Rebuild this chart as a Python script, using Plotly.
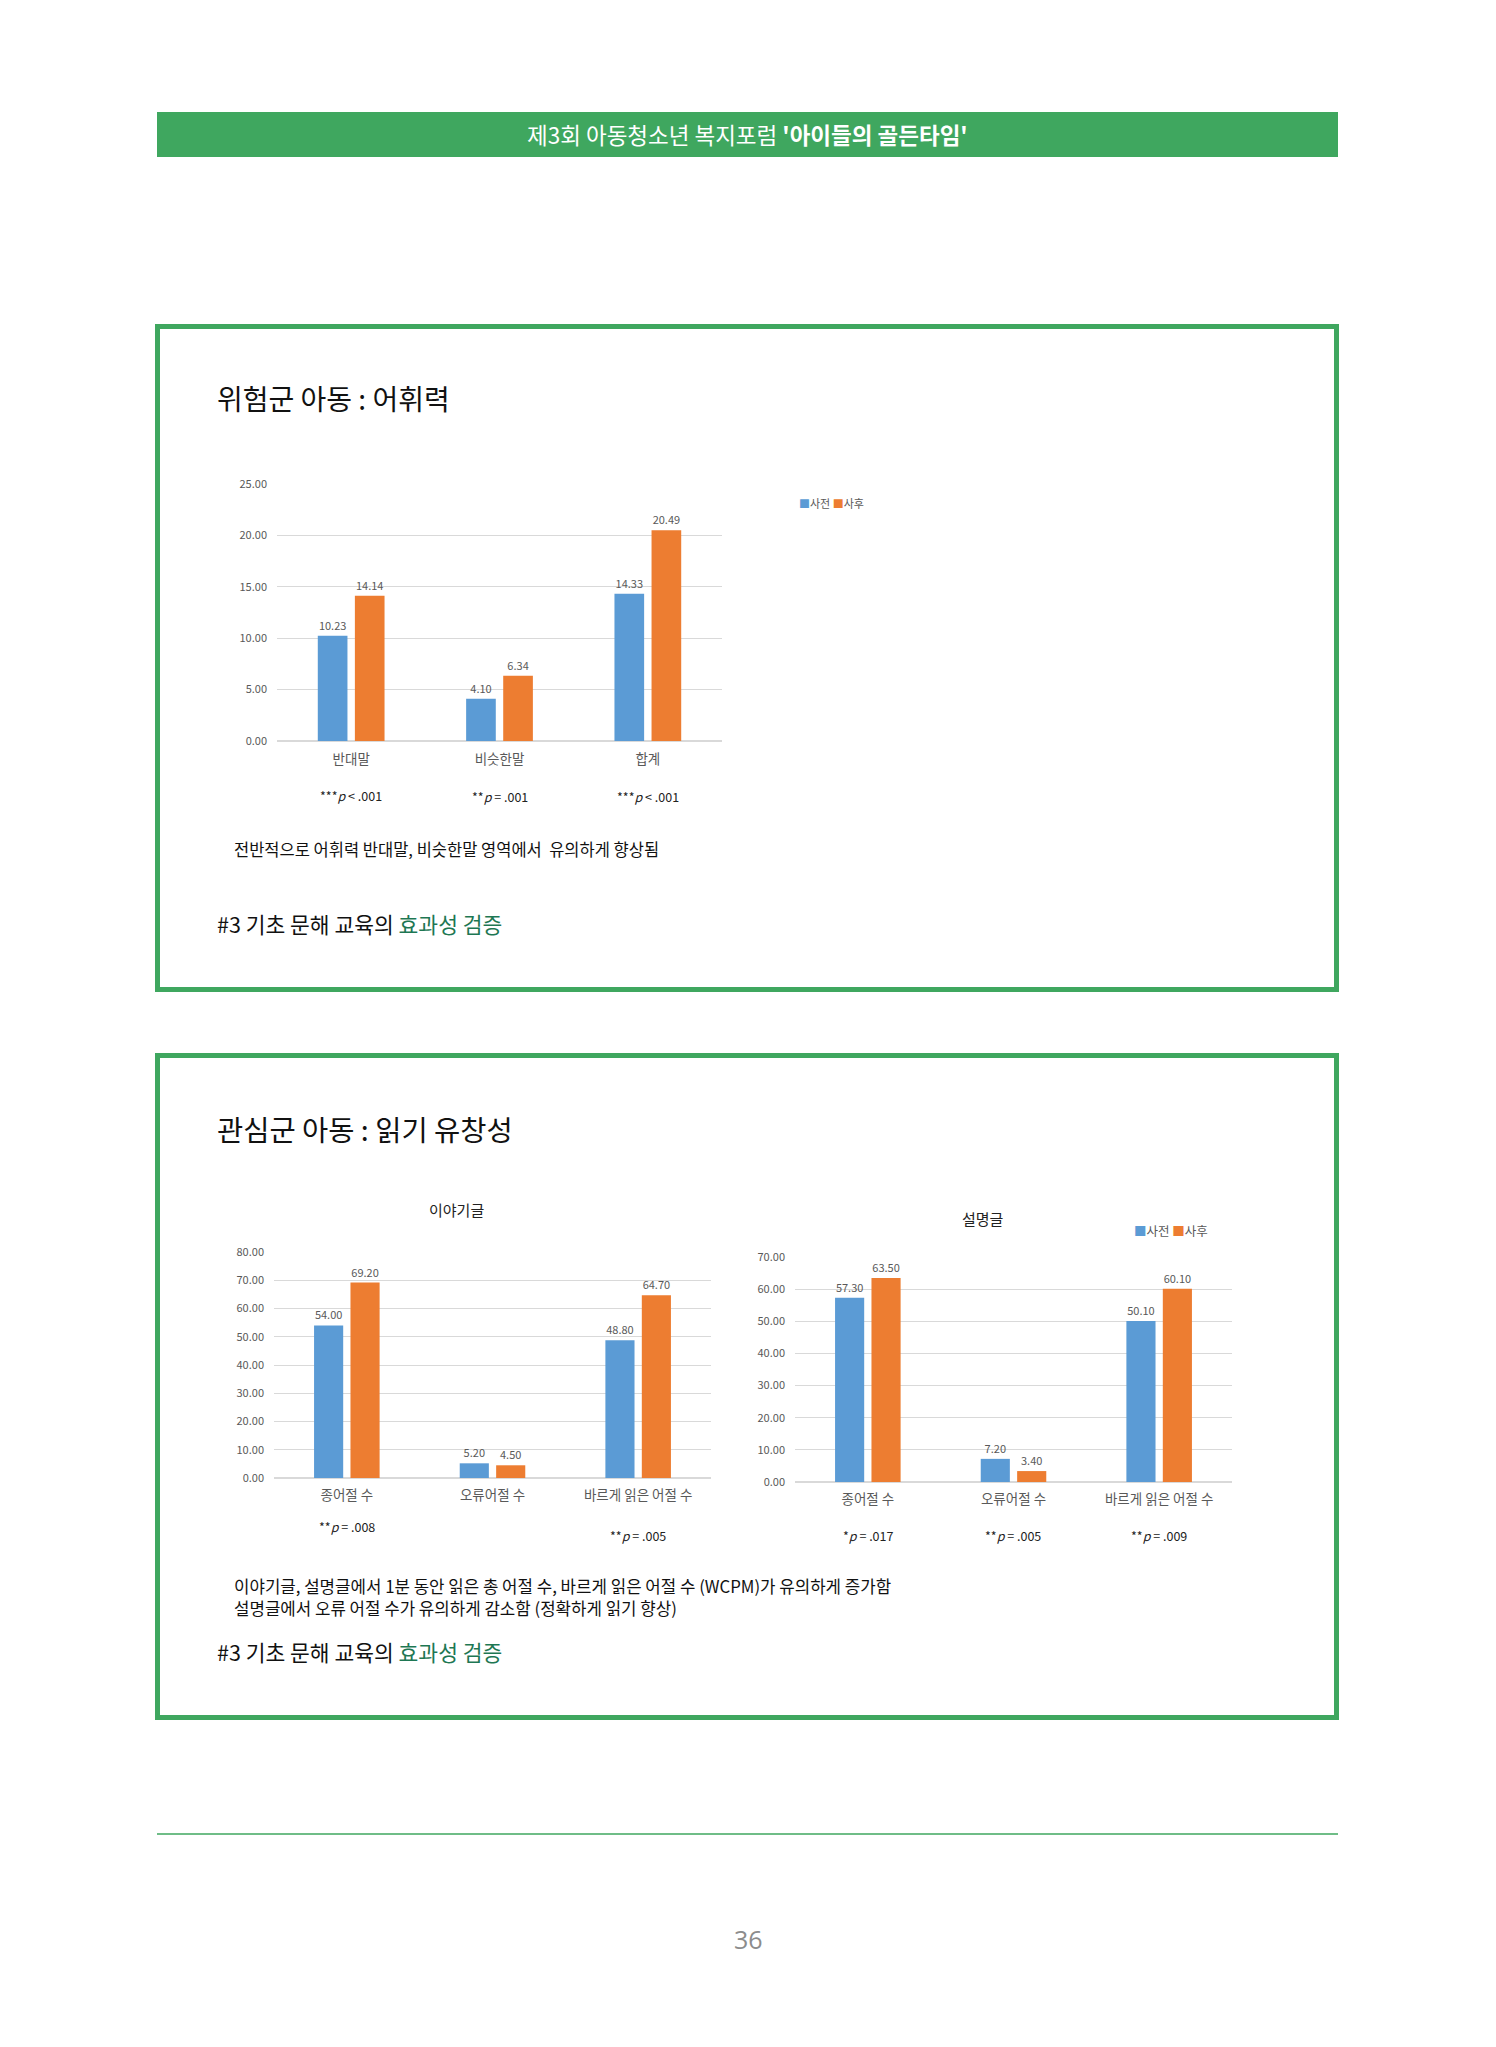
import plotly.graph_objects as go

W, H = 1496, 2047
GREEN = "#3FA75F"
TEAL = "#1E7753"
BLUE = "#5B9BD5"
ORANGE = "#ED7D31"
GRID = "#D9D9D9"
TXT = "#595959"
FONT = "Noto Sans CJK KR"

# ---- data ----
series_names = ["사전", "사후"]

vocab_categories = ["반대말", "비슷한말", "합계"]
vocab_pre = [10.23, 4.10, 14.33]
vocab_post = [14.14, 6.34, 20.49]
vocab_p = ["***<i>p</i> &lt; .001", "**<i>p</i> = .001", "***<i>p</i> &lt; .001"]

fluency_categories = ["종어절 수", "오류어절 수", "바르게 읽은 어절 수"]
story_pre = [54.00, 5.20, 48.80]
story_post = [69.20, 4.50, 64.70]
story_p = ["**<i>p</i> = .008", None, "**<i>p</i> = .005"]

expo_pre = [57.30, 7.20, 50.10]
expo_post = [63.50, 3.40, 60.10]
expo_p = ["*<i>p</i> = .017", "**<i>p</i> = .005", "**<i>p</i> = .009"]

OFF, HR = 0.0, 2047.0


def px(x):
    return x / W


def py(y):
    return 1 - (y - OFF) / HR


fig = go.Figure()


def add_pair(cats, pre, post, xa, ya):
    for name, vals, col in [(series_names[0], pre, BLUE), (series_names[1], post, ORANGE)]:
        fig.add_trace(go.Bar(
            x=cats, y=vals, name=name, marker=dict(color=col, line=dict(width=0)),
            texttemplate="%{y:.2f}", textposition="outside",
            textfont=dict(size=11, color=TXT, family=FONT),
            cliponaxis=False, xaxis=xa, yaxis=ya, showlegend=False,
        ))


add_pair(vocab_categories, vocab_pre, vocab_post, "x", "y")
add_pair(fluency_categories, story_pre, story_post, "x2", "y2")
add_pair(fluency_categories, expo_pre, expo_post, "x3", "y3")


def yax(rng, dtick, top, bot, anchor, size):
    return dict(range=rng, dtick=dtick, tickformat=".2f", showgrid=True, gridcolor=GRID,
                gridwidth=1, zeroline=True, zerolinecolor=GRID, zerolinewidth=1.5,
                showline=False, ticks="", tickfont=dict(size=size, color=TXT, family=FONT),
                ticklabelstandoff=9, domain=[py(bot), py(top)], anchor=anchor, fixedrange=True,
                automargin=False)


def xax(left, right, anchor, size, standoff):
    return dict(domain=[px(left), px(right)], anchor=anchor, showline=False, ticks="",
                tickfont=dict(size=size, color=TXT, family=FONT), ticklabelstandoff=standoff,
                fixedrange=True, automargin=False)


fig.update_layout(
    width=W, height=H, margin=dict(l=0, r=0, t=0, b=0),
    paper_bgcolor="white", plot_bgcolor="white",
    barmode="group", bargap=0.5, bargroupgap=0.2,
    font=dict(family=FONT, color=TXT),
    xaxis=xax(277, 722, "y", 13.5, 8),
    yaxis=yax([0, 25], 5, 484, 741, "x", 11),
    xaxis2=xax(274, 711, "y2", 13.5, 7),
    yaxis2=yax([0, 80], 10, 1252, 1478, "x2", 11),
    xaxis3=xax(795, 1232, "y3", 13.5, 7),
    yaxis3=yax([0, 70], 10, 1257, 1482, "x3", 11),
    showlegend=False,
)

shapes = [
    # header bar
    dict(type="rect", xref="paper", yref="paper", x0=px(157), x1=px(1338), y0=py(157), y1=py(112),
         fillcolor=GREEN, line=dict(width=0), layer="below"),
    # boxes
    dict(type="rect", xref="paper", yref="paper", x0=px(157.5), x1=px(1336.5), y0=py(989.5), y1=py(326.5),
         line=dict(color=GREEN, width=5), fillcolor="rgba(0,0,0,0)"),
    dict(type="rect", xref="paper", yref="paper", x0=px(157.5), x1=px(1336.5), y0=py(1717.5), y1=py(1055.5),
         line=dict(color=GREEN, width=5), fillcolor="rgba(0,0,0,0)"),
    # bottom rule
    dict(type="line", xref="paper", yref="paper", x0=px(157), x1=px(1338), y0=py(1834), y1=py(1834),
         line=dict(color=GREEN, width=1.5)),
]
fig.update_layout(shapes=shapes)

ann = []


def text(x, y, s, size, color="#111111", xanchor="left", family=FONT):
    ann.append(dict(xref="paper", yref="paper", x=px(x), y=py(y), text=s, showarrow=False,
                    xanchor=xanchor, yanchor="middle", font=dict(size=size, color=color, family=family)))


text(747, 134, "제3회 아동청소년 복지포럼 <b>'아이들의 골든타임'</b>", 22.5, "white", "center")

text(215, 398, "위험군 아동 : 어휘력", 28)
text(232, 849, "전반적으로 어휘력 반대말, 비슷한말 영역에서  유의하게 향상됨", 16.5)
text(215, 923, f"#3 기초 문해 교육의 <span style='color:{TEAL}'>효과성 검증</span>", 21.5)

text(215, 1128, "관심군 아동 : 읽기 유창성", 28.5)
text(456, 1209, "이야기글", 15, "#222222", "center")
text(983, 1218, "설명글", 15, "#222222", "center")
text(232, 1586, "이야기글, 설명글에서 1분 동안 읽은 총 어절 수, 바르게 읽은 어절 수 (WCPM)가 유의하게 증가함", 16.8)
text(232, 1608, "설명글에서 오류 어절 수가 유의하게 감소함 (정확하게 읽기 향상)", 16.8)
text(215, 1651, f"#3 기초 문해 교육의 <span style='color:{TEAL}'>효과성 검증</span>", 21.5)

text(748, 1939, "36", 25, "#8C8C8C", "center", "Open Sans")

# legends (compact, as in the original)
legend_txt = (f"<span style='color:{BLUE}'>■</span>{series_names[0]} "
              f"<span style='color:{ORANGE}'>■</span>{series_names[1]}")
text(797, 503, legend_txt, 11, TXT)
text(1132, 1230, legend_txt, 12.5, TXT)

# p-value notes under categories
for cats, notes, xa, ypos in [(vocab_categories, vocab_p, "x", [795, 796, 796]),
                              (fluency_categories, story_p, "x2", [1526, 1535, 1535]),
                              (fluency_categories, expo_p, "x3", [1535, 1535, 1535])]:
    for i, (c, n) in enumerate(zip(cats, notes)):
        if n is None:
            continue
        ann.append(dict(xref=xa, yref="paper", x=c, y=py(ypos[i]), text=n, showarrow=False,
                        xanchor="center", yanchor="middle", font=dict(size=12.5, color="#222222", family=FONT)))

fig.update_layout(annotations=ann)
fig.write_html("out.html")
